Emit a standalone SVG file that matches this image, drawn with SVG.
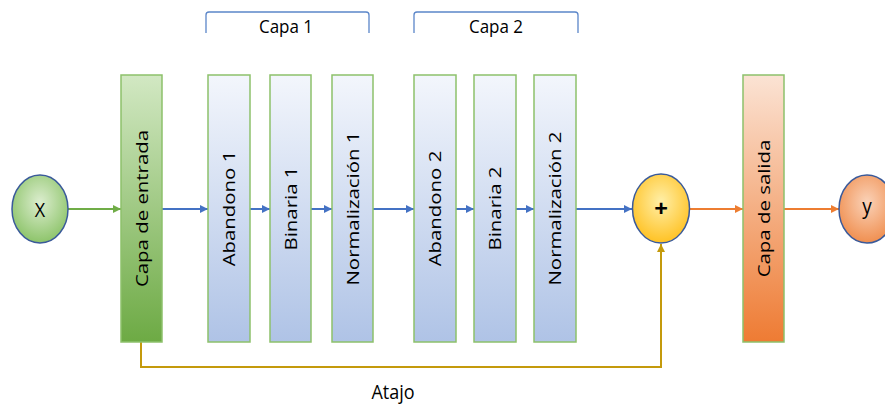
<svg xmlns="http://www.w3.org/2000/svg" width="885" height="405" viewBox="0 0 885 405">
<style>
  .lbl { font-family: "Open Sans", "Liberation Sans", Arial, sans-serif; font-size: 17px; fill: #000; text-anchor: middle; }
  .hl { font-family: "Open Sans", "Liberation Sans", Arial, sans-serif; font-size: 17px; fill: #000; text-anchor: middle; }
  .box { stroke: #8DC16B; stroke-width: 1.5; }
  .circ { stroke: #3A5A9A; stroke-width: 1.5; }
  .br { fill: none; stroke: #5B86C9; stroke-width: 1.3; }
  .c-blue { stroke: #4472C4; stroke-width: 2; fill: none; }
  .c-green { stroke: #70AD47; stroke-width: 2; fill: none; }
  .c-orange { stroke: #ED7D31; stroke-width: 2; fill: none; }
  .c-gold { stroke: #C49A0C; stroke-width: 2; fill: none; }
</style>
<defs>
  <linearGradient id="gBlue" x1="0" y1="0" x2="0" y2="1">
    <stop offset="0" stop-color="#F3F6FC"/>
    <stop offset="1" stop-color="#AFC3E6"/>
  </linearGradient>
  <linearGradient id="gGreen" x1="0" y1="0" x2="0" y2="1">
    <stop offset="0" stop-color="#D2E8C3"/>
    <stop offset="1" stop-color="#6DAA44"/>
  </linearGradient>
  <linearGradient id="gOrange" x1="0" y1="0" x2="0" y2="1">
    <stop offset="0" stop-color="#FBE3D4"/>
    <stop offset="1" stop-color="#EE7B33"/>
  </linearGradient>
  <radialGradient id="rGreen" cx="0.5" cy="0.4" r="0.6">
    <stop offset="0" stop-color="#DCEDCF"/>
    <stop offset="1" stop-color="#8DC46A"/>
  </radialGradient>
  <radialGradient id="rYellow" cx="0.5" cy="0.4" r="0.6">
    <stop offset="0" stop-color="#FFEFA8"/>
    <stop offset="1" stop-color="#FFC224"/>
  </radialGradient>
  <radialGradient id="rOrange" cx="0.5" cy="0.4" r="0.6">
    <stop offset="0" stop-color="#FAD2B8"/>
    <stop offset="1" stop-color="#F08F50"/>
  </radialGradient>
  <marker id="aBlue" viewBox="0 0 10 10" refX="10" refY="5" markerWidth="4" markerHeight="4" orient="auto"><path d="M0,0 L10,5 L0,10 z" fill="#4472C4"/></marker>
  <marker id="aGreen" viewBox="0 0 10 10" refX="10" refY="5" markerWidth="4" markerHeight="4" orient="auto"><path d="M0,0 L10,5 L0,10 z" fill="#70AD47"/></marker>
  <marker id="aOrange" viewBox="0 0 10 10" refX="10" refY="5" markerWidth="4" markerHeight="4" orient="auto"><path d="M0,0 L10,5 L0,10 z" fill="#ED7D31"/></marker>
  <marker id="aGold" viewBox="0 0 10 10" refX="10" refY="5" markerWidth="4" markerHeight="4" orient="auto"><path d="M0,0 L10,5 L0,10 z" fill="#C49A0C"/></marker>
</defs>
<rect width="885" height="405" fill="#FFFFFF"/>

<g id="brackets">
  <path class="br" d="M206,33 V15 Q206,12 209,12 H366 Q369,12 369,15 V33"/>
  <text class="hl" transform="translate(286,33) scale(1,1.1)">Capa 1</text>
  <path class="br" d="M414,33 V15 Q414,12 417,12 H575 Q578,12 578,15 V33"/>
  <text class="hl" transform="translate(496,33) scale(1,1.1)">Capa 2</text>
</g>

<g id="connectors">
  <line class="c-green" x1="68" y1="209" x2="121" y2="209" marker-end="url(#aGreen)"/>
  <line class="c-blue" x1="162" y1="209" x2="208" y2="209" marker-end="url(#aBlue)"/>
  <line class="c-blue" x1="250" y1="209" x2="270" y2="209" marker-end="url(#aBlue)"/>
  <line class="c-blue" x1="311" y1="209" x2="332" y2="209" marker-end="url(#aBlue)"/>
  <line class="c-blue" x1="373" y1="209" x2="414" y2="209" marker-end="url(#aBlue)"/>
  <line class="c-blue" x1="456" y1="209" x2="474" y2="209" marker-end="url(#aBlue)"/>
  <line class="c-blue" x1="516" y1="209" x2="534" y2="209" marker-end="url(#aBlue)"/>
  <line class="c-blue" x1="576" y1="209" x2="632" y2="209" marker-end="url(#aBlue)"/>
  <line class="c-orange" x1="689" y1="209" x2="743" y2="209" marker-end="url(#aOrange)"/>
  <line class="c-orange" x1="784" y1="209" x2="839" y2="209" marker-end="url(#aOrange)"/>
  <polyline class="c-gold" points="141,342 141,367 661,367 661,244" marker-end="url(#aGold)"/>
  <text class="hl" transform="translate(393,399) scale(1,1.1)" style="font-size:18px">Atajo</text>
</g>

<g id="node-x">
  <ellipse class="circ" cx="40" cy="209" rx="28" ry="34" fill="url(#rGreen)"/>
  <text class="hl" transform="translate(40,216.5) scale(1,1.15)" style="font-size:18px">X</text>
</g>

<g id="node-entrada">
  <rect class="box" x="121" y="75" width="41" height="267" fill="url(#gGreen)"/>
  <text class="lbl" transform="translate(147.5,208.5) rotate(-90) scale(1.2,1)">Capa de entrada</text>
</g>

<g id="node-abandono1">
  <rect class="box" x="208" y="75" width="42" height="267" fill="url(#gBlue)"/>
  <text class="lbl" transform="translate(235,208.5) rotate(-90) scale(1.2,1)">Abandono 1</text>
</g>
<g id="node-binaria1">
  <rect class="box" x="270" y="75" width="41" height="267" fill="url(#gBlue)"/>
  <text class="lbl" transform="translate(296.5,208.5) rotate(-90) scale(1.2,1)">Binaria 1</text>
</g>
<g id="node-norm1">
  <rect class="box" x="332" y="75" width="41" height="267" fill="url(#gBlue)"/>
  <text class="lbl" transform="translate(358.5,208.5) rotate(-90) scale(1.2,1)">Normalización 1</text>
</g>
<g id="node-abandono2">
  <rect class="box" x="414" y="75" width="42" height="267" fill="url(#gBlue)"/>
  <text class="lbl" transform="translate(441,208.5) rotate(-90) scale(1.2,1)">Abandono 2</text>
</g>
<g id="node-binaria2">
  <rect class="box" x="474" y="75" width="42" height="267" fill="url(#gBlue)"/>
  <text class="lbl" transform="translate(501,208.5) rotate(-90) scale(1.2,1)">Binaria 2</text>
</g>
<g id="node-norm2">
  <rect class="box" x="534" y="75" width="42" height="267" fill="url(#gBlue)"/>
  <text class="lbl" transform="translate(561,208.5) rotate(-90) scale(1.2,1)">Normalización 2</text>
</g>

<g id="node-plus">
  <ellipse class="circ" cx="661" cy="208.5" rx="28.5" ry="34.5" fill="url(#rYellow)"/>
  <text class="hl" x="661" y="217" style="font-size:24px;font-weight:bold">+</text>
</g>

<g id="node-salida">
  <rect class="box" x="743" y="75" width="41" height="267" fill="url(#gOrange)"/>
  <text class="lbl" transform="translate(769.5,208.5) rotate(-90) scale(1.2,1)">Capa de salida</text>
</g>

<g id="node-y">
  <ellipse class="circ" cx="867" cy="209" rx="28" ry="34" fill="url(#rOrange)"/>
  <text class="hl" transform="translate(867,214) scale(1,1.15)" style="font-size:19px">y</text>
</g>
</svg>
